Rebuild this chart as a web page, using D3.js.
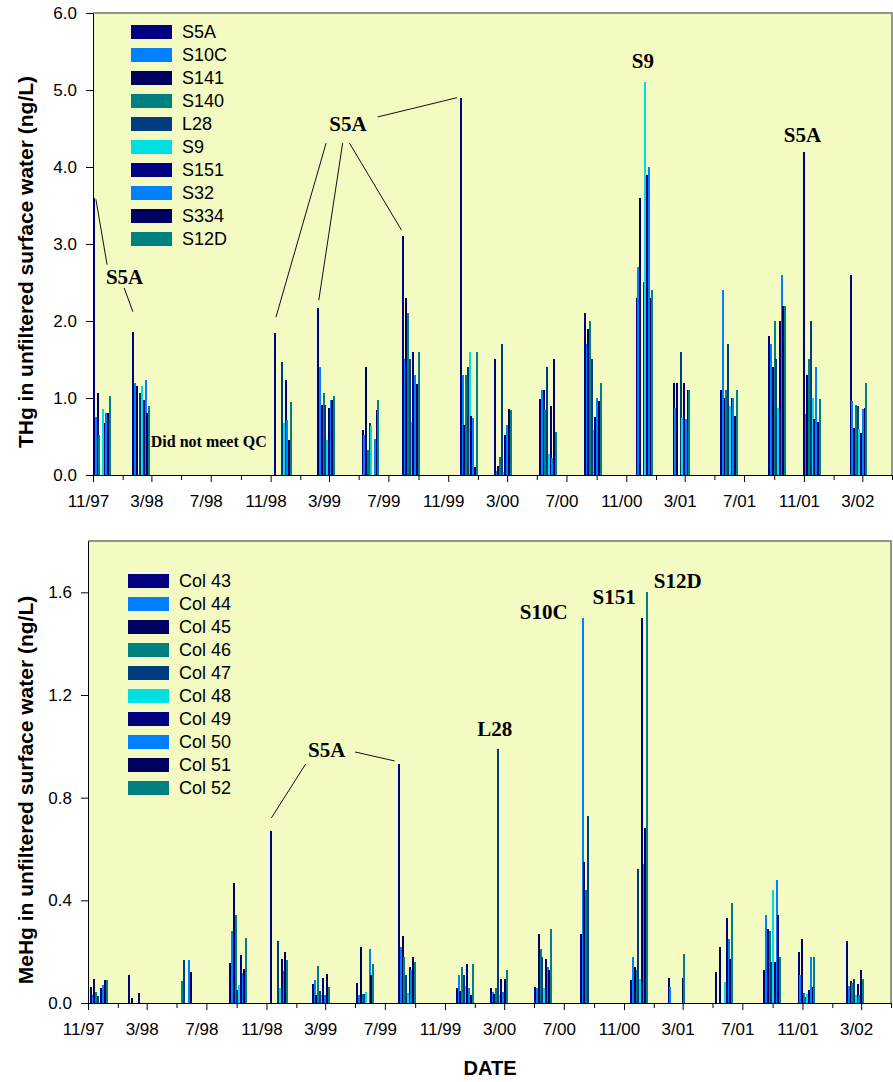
<!DOCTYPE html>
<html>
<head>
<meta charset="utf-8">
<script src="https://cdn.jsdelivr.net/npm/d3@7"></script>
<style>
  body { margin: 0; background: #fff; }
</style>
</head>
<body>
<svg id="chart" width="893" height="1082"></svg>
<script>
const thgStations = ["S5A", "S10C", "S141", "S140", "L28", "S9", "S151", "S32", "S334", "S12D"]
const mehgStations = ["Col 43", "Col 44", "Col 45", "Col 46", "Col 47", "Col 48", "Col 49", "Col 50", "Col 51", "Col 52"]
const stationColors = ["#000080", "#0080ff", "#000060", "#008080", "#003c80", "#00e0e0", "#000080", "#0080ff", "#000060", "#008080"]

const xTickLabels = ["11/97", "3/98", "7/98", "11/98", "3/99", "7/99", "11/99", "3/00", "7/00", "11/00", "3/01", "7/01", "11/01", "3/02"]
const xMinorLabels = ["1/98", "5/98", "9/98", "1/99", "5/99", "9/99", "1/00", "5/00", "9/00", "1/01", "5/01", "9/01", "1/02", "5/02"]

// THg sampling trips, one row per trip, stations in legend order
const thgDates = ["1997-11-01", "1998-01-21", "1998-11-08", "1999-02-05", "1999-05-07", "1999-07-29", "1999-11-25", "2000-02-03",
  "2000-05-06", "2000-08-06", "2000-11-20", "2001-02-04", "2001-05-13", "2001-08-20", "2001-10-30", "2002-02-03"]
const thgValues = [
  [3.60, 0.75, 1.07, 0.52, null, 0.86, 0.68, 0.80, 0.81, 1.02],
  [1.86, 1.20, 1.16, null, 1.06, 1.16, 0.98, 1.23, 0.81, 0.89],
  [1.84, null, null, null, 1.47, 0.68, 1.23, 0.71, 0.45, 0.95],
  [2.17, 1.40, 0.91, 1.06, 0.91, 0.46, 0.87, 0.98, 0.97, 1.03],
  [0.59, 0.52, 1.40, 0.33, 0.67, 0.63, null, 0.47, 0.85, 0.97],
  [3.10, 1.51, 2.30, 2.10, 1.51, 0.69, 1.60, 1.30, 1.18, 1.60],
  [4.90, 1.30, 0.65, 1.30, 1.40, 1.60, 0.77, 0.74, 0.10, 1.60],
  [1.51, 0.05, 0.12, 0.23, 1.70, 0.04, 0.52, 0.65, 0.86, 0.84],
  [0.99, 1.10, 1.10, 0.84, 1.40, 0.27, 0.90, 0.22, 1.51, 0.56],
  [2.10, 1.70, 1.90, 2.00, 1.51, 0.58, 0.75, 1.00, 0.96, 1.19],
  [2.30, 2.70, 3.60, null, 2.51, 5.10, 3.90, 4.00, 2.30, 2.40],
  [1.19, 0.87, 1.19, null, 1.60, 0.74, 1.19, 0.73, 1.10, 1.10],
  [1.10, 2.40, 1.00, 1.10, 1.70, 0.90, 1.00, 1.00, 0.76, 1.10],
  [1.80, 1.70, 1.40, 2.00, 1.51, 0.87, 2.00, 2.60, 2.20, 2.20],
  [4.20, 0.79, 1.30, 1.51, 2.00, 1.00, 0.73, 1.40, 0.69, 0.99],
  [2.60, 0.96, 0.61, 0.91, 0.90, 0.60, 0.55, 0.86, 0.87, 1.19]
]

// MeHg sampling trips
const mehgDates = ["1997-11-05", "1998-01-21", "1998-04-29", "1998-08-17", "1998-11-09", "1999-02-02", "1999-05-04", "1999-07-28",
  "1999-11-23", "2000-02-01", "2000-05-02", "2000-08-03", "2000-11-14", "2001-01-29", "2001-05-07", "2001-08-13", "2001-10-22", "2002-01-29"]
const mehgValues = [
  [0.061, 0.031, 0.092, 0.043, 0.026, null, 0.057, 0.070, 0.090, 0.090],
  [0.109, null, 0.018, null, null, null, 0.038, null, null, null],
  [null, null, null, 0.086, 0.168, null, null, 0.168, 0.121, null],
  [0.156, 0.280, 0.467, 0.343, 0.050, 0.070, 0.187, 0.117, 0.132, 0.253],
  [0.670, null, null, null, 0.242, 0.058, 0.171, 0.125, 0.198, 0.168],
  [0.074, 0.090, 0.031, 0.144, 0.047, 0.031, 0.097, 0.031, 0.113, 0.062],
  [0.078, 0.031, 0.218, 0.035, 0.035, 0.043, null, 0.210, 0.109, 0.152],
  [0.931, 0.218, 0.261, 0.179, 0.109, 0.039, 0.140, 0.128, 0.179, 0.160],
  [0.058, 0.109, 0.047, 0.140, 0.109, 0.066, 0.152, 0.058, 0.031, 0.152],
  [0.058, 0.043, 0.035, 0.058, 0.989, 0.031, 0.093, 0.043, 0.093, 0.128],
  [0.062, 0.058, 0.268, 0.210, 0.179, 0.058, 0.171, 0.140, 0.128, 0.288],
  [0.268, 1.500, 0.549, 0.440, 0.728, null, null, null, null, null],
  [0.090, 0.179, 0.140, 0.128, 0.522, 0.093, 1.500, 0.541, 0.682, 1.601],
  [0.097, 0.062, null, null, null, null, null, null, 0.097, 0.191],
  [0.121, null, 0.218, null, null, 0.082, 0.331, 0.249, 0.171, 0.390],
  [0.128, 0.343, 0.288, 0.280, 0.160, 0.440, 0.160, 0.479, 0.343, 0.179],
  [0.198, 0.109, 0.249, 0.039, 0.023, 0.035, 0.051, 0.179, 0.062, 0.179],
  [0.242, 0.066, 0.086, 0.078, 0.093, 0.031, 0.074, 0.031, 0.128, 0.093]
]

const thgNotes = [
  {text: "S5A", date: "1998-01-05", value: 2.57},
  {text: "S5A", date: "1999-04-09", value: 4.56},
  {text: "S9", date: "2000-12-05", value: 5.38},
  {text: "S5A", date: "2001-10-29", value: 4.42},
  {text: "Did not meet QC", date: "1998-06-27", value: 0.44, small: true}
]
const thgLeaders = [
  ["1997-11-07", 3.58, "1997-11-30", 2.73],
  ["1998-01-04", 2.43, "1998-01-22", 2.12],
  ["1999-02-23", 4.31, "1998-11-12", 2.05],
  ["1999-03-29", 4.31, "1999-02-08", 2.27],
  ["1999-04-12", 4.31, "1999-07-28", 3.18],
  ["1999-06-09", 4.65, "1999-11-19", 4.90]
]
const mehgNotes = [
  {text: "S5A", date: "1999-03-04", value: 0.986},
  {text: "L28", date: "2000-02-11", value: 1.067},
  {text: "S10C", date: "2000-05-21", value: 1.523},
  {text: "S151", date: "2000-10-12", value: 1.585},
  {text: "S12D", date: "2001-02-19", value: 1.644}
]
const mehgLeaders = [
  ["1999-01-20", 0.931, "1998-11-11", 0.721],
  ["1999-05-01", 0.978, "1999-07-21", 0.943]
]

const parse = d3.timeParse("%Y-%m-%d")
const parseTick = d3.timeParse("%m/%y")
const xDomain = [parseTick("11/97"), parseTick("5/02")]
const sans = "Arial, 'Liberation Sans', sans-serif"
const serif = "'Times New Roman', 'Liberation Serif', serif"
const step = 1.75, barW = 2

const svg = d3.select("#chart")

const panels = [
  {stations: thgStations, dates: thgDates, values: thgValues, notes: thgNotes, leaders: thgLeaders,
   yMax: 6, yTicks: d3.range(0, 6.5, 1), left: 93, right: 892, top: 13, bottom: 475,
   title: "THg in unfiltered surface water (ng/L)", legendX: 131, legendY: 25},
  {stations: mehgStations, dates: mehgDates, values: mehgValues, notes: mehgNotes, leaders: mehgLeaders,
   yMax: 1.8, yTicks: [0, 0.4, 0.8, 1.2, 1.6], left: 88, right: 891, top: 541, bottom: 1003,
   title: "MeHg in unfiltered surface water (ng/L)", legendX: 128, legendY: 574}
]

function drawPanel(p) {
  const x = d3.scaleTime().domain(xDomain).range([p.left, p.right])
  const y = d3.scaleLinear().domain([0, p.yMax]).range([p.bottom, p.top])
  const g = svg.append("g")

  g.append("rect")
      .attr("x", p.left).attr("y", p.top)
      .attr("width", p.right - p.left).attr("height", p.bottom - p.top)
      .attr("fill", "#f3fac2")
  g.append("path")
      .attr("d", `M${p.left},${p.top}H${p.right}V${p.bottom}`)
      .attr("fill", "none")
      .attr("stroke", "#76766a")
      .attr("stroke-width", 1.5)

  const bars = p.dates.flatMap((d, j) =>
    p.values[j].map((v, i) => ({date: parse(d), v, i})).filter(b => b.v != null))

  g.append("g")
      .attr("shape-rendering", "crispEdges")
    .selectAll("rect")
    .data(bars)
    .join("rect")
      .attr("x", b => x(b.date) + b.i * step)
      .attr("y", b => y(b.v))
      .attr("width", barW)
      .attr("height", b => y(0) - y(b.v))
      .attr("fill", b => stationColors[b.i])

  // leader lines and labels
  g.append("g")
      .attr("stroke", "#111")
      .attr("stroke-width", 1)
    .selectAll("line")
    .data(p.leaders)
    .join("line")
      .attr("x1", d => x(parse(d[0])))
      .attr("y1", d => y(d[1]))
      .attr("x2", d => x(parse(d[2])))
      .attr("y2", d => y(d[3]))

  g.append("g")
      .attr("font-family", serif)
      .attr("font-weight", "bold")
      .attr("text-anchor", "middle")
    .selectAll("text")
    .data(p.notes)
    .join("text")
      .attr("x", d => x(parse(d.date)))
      .attr("y", d => y(d.value))
      .attr("dy", "0.35em")
      .attr("font-size", d => d.small ? 16 : 21)
      .text(d => d.text)

  // axes
  g.append("g")
      .attr("transform", `translate(${p.left},0)`)
      .call(d3.axisLeft(y).tickValues(p.yTicks).tickFormat(d3.format(".1f"))
        .tickSize(7).tickPadding(9).tickSizeOuter(0))
      .attr("font-size", 17)
      .attr("font-family", sans)

  g.append("g")
      .attr("transform", `translate(0,${p.bottom})`)
      .call(d3.axisBottom(x).tickValues(xMinorLabels.map(parseTick)).tickFormat("")
        .tickSize(5).tickSizeOuter(0))
      .call(a => a.select(".domain").remove())

  g.append("g")
      .attr("transform", `translate(0,${p.bottom})`)
      .call(d3.axisBottom(x).tickValues(xTickLabels.map(parseTick)).tickFormat((d, i) => xTickLabels[i])
        .tickSize(7).tickPadding(13).tickSizeOuter(0))
      .attr("font-size", 17)
      .attr("font-family", sans)
      .call(a => a.selectAll(".tick text").attr("dx", -5))

  // y title
  g.append("text")
      .attr("transform", `translate(33,${(p.top + p.bottom) / 2 + 18}) rotate(-90)`)
      .attr("text-anchor", "middle")
      .attr("font-family", sans)
      .attr("font-weight", "bold")
      .attr("font-size", 21)
      .text(p.title)

  // legend
  const legend = g.append("g")
      .attr("font-family", sans)
      .attr("font-size", 18)
    .selectAll("g")
    .data(p.stations)
    .join("g")
      .attr("transform", (d, i) => `translate(${p.legendX},${p.legendY + i * 23})`)
  legend.append("rect")
      .attr("width", 41)
      .attr("height", 14)
      .attr("fill", (d, i) => stationColors[i])
  legend.append("text")
      .attr("x", 51)
      .attr("y", 7)
      .attr("dy", "0.36em")
      .text(d => d)
}

panels.forEach(drawPanel)

svg.append("text")
    .attr("x", 490)
    .attr("y", 1075)
    .attr("text-anchor", "middle")
    .attr("font-family", sans)
    .attr("font-weight", "bold")
    .attr("font-size", 20)
    .text("DATE")
</script>
</body>
</html>
